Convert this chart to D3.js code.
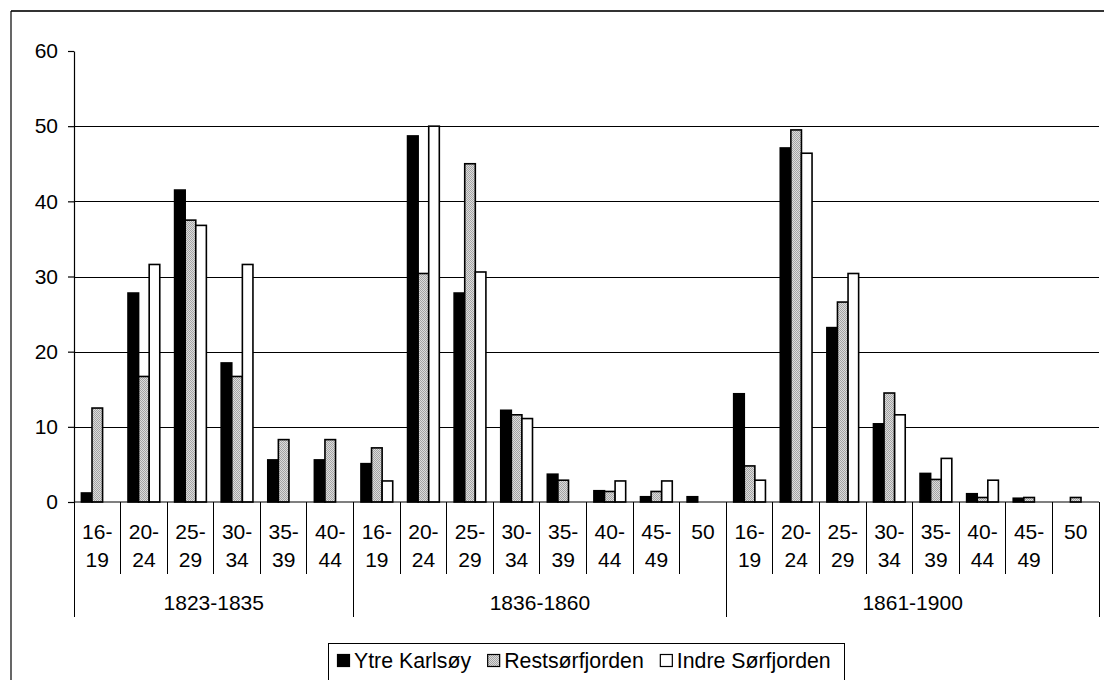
<!DOCTYPE html>
<html>
<head>
<meta charset="utf-8">
<script src="https://cdn.jsdelivr.net/npm/d3@7"></script>
<style>
  html, body { margin: 0; padding: 0; background: #fff; }
  svg { display: block; }
  text { font-family: Arial, "Liberation Sans", sans-serif; fill: #000; }
</style>
</head>
<body>
<svg id="chart" width="1104" height="680"></svg>
<script>
// ---------- data ----------
const periods = ["1823-1835", "1836-1860", "1861-1900"];
const ages1823 = ["16-19", "20-24", "25-29", "30-34", "35-39", "40-44"];
const ages1836 = ["16-19", "20-24", "25-29", "30-34", "35-39", "40-44", "45-49", "50"];
const ages1861 = ["16-19", "20-24", "25-29", "30-34", "35-39", "40-44", "45-49", "50"];
const seriesNames = ["Ytre Karlsøy", "Restsørfjorden", "Indre Sørfjorden"];
const ytreKarlsoy = [1.2, 27.8, 41.5, 18.5, 5.6, 5.6,
                     5.1, 48.7, 27.8, 12.2, 3.7, 1.5, 0.7, 0.7,
                     14.4, 47.1, 23.2, 10.4, 3.8, 1.1, 0.5, 0];
const restsorfjorden = [12.5, 16.7, 37.5, 16.7, 8.3, 8.3,
                        7.2, 30.4, 45.0, 11.6, 2.9, 1.4, 1.4, 0,
                        4.8, 49.5, 26.6, 14.5, 3.0, 0.6, 0.6, 0.6];
const indreSorfjorden = [0, 31.6, 36.8, 31.6, 0, 0,
                         2.8, 50.0, 30.6, 11.1, 0, 2.8, 2.8, 0,
                         2.9, 46.4, 30.4, 11.6, 5.8, 2.9, 0, 0];
const yTicks = [0, 10, 20, 30, 40, 50, 60];

// ---------- build categories ----------
const ageLists = [ages1823, ages1836, ages1861];
const categories = [];
ageLists.forEach((list, gi) => list.forEach(a => categories.push({ id: gi + "|" + a, age: a, group: gi })));
const seriesValues = [ytreKarlsoy, restsorfjorden, indreSorfjorden];

// ---------- layout ----------
const svg = d3.select("#chart");
const plotL = 74, plotR = 1099, plotT = 51, plotB = 502;
const FS = 21;

const x = d3.scaleBand().domain(categories.map(c => c.id)).range([plotL, plotR]).paddingInner(0).paddingOuter(0);
const xs = d3.scaleBand().domain([0, 1, 2]).range([0, x.bandwidth()]).paddingInner(0).paddingOuter(0.7);
const y = d3.scaleLinear().domain([0, 60]).range([plotB, plotT]);

// pattern for grey series
const defs = svg.append("defs");
const pat = defs.append("pattern").attr("id", "greyPat").attr("width", 2).attr("height", 2)
  .attr("patternUnits", "userSpaceOnUse");
pat.append("rect").attr("width", 2).attr("height", 2).attr("fill", "#dcdcdc");
pat.append("rect").attr("width", 1).attr("height", 1).attr("fill", "#a4a4a4");
pat.append("rect").attr("x", 1).attr("y", 1).attr("width", 1).attr("height", 1).attr("fill", "#a4a4a4");
const fills = ["#000", "url(#greyPat)", "#fff"];

// background
svg.append("rect").attr("width", 1104).attr("height", 680).attr("fill", "#fff");

// outer frame (top & left visible)
svg.append("line").attr("x1", 11).attr("x2", 1104).attr("y1", 11).attr("y2", 11)
  .attr("stroke", "#333").attr("stroke-width", 2);
svg.append("line").attr("x1", 11).attr("x2", 11).attr("y1", 11).attr("y2", 680)
  .attr("stroke", "#000").attr("stroke-width", 1.2);

// gridlines
svg.append("g").attr("transform", `translate(${plotL},0)`)
  .call(d3.axisLeft(y).tickValues(yTicks.filter(v => v > 0 && v < 60)).tickSize(-(plotR - plotL)).tickFormat(""))
  .call(g => g.select(".domain").remove())
  .call(g => g.selectAll("line").attr("stroke", "#000").attr("stroke-width", 1).attr("shape-rendering", "crispEdges"));

// bars
const barG = svg.append("g");
categories.forEach((c, ci) => {
  seriesValues.forEach((vals, si) => {
    const v = vals[ci];
    if (!v) return;
    barG.append("rect")
      .attr("x", x(c.id) + xs(si))
      .attr("width", xs.bandwidth())
      .attr("y", y(v))
      .attr("height", y(0) - y(v))
      .attr("fill", fills[si])
      .attr("stroke", "#000")
      .attr("stroke-width", 1.6);
  });
});

// y axis
const yAxis = svg.append("g").attr("transform", `translate(${plotL},0)`)
  .call(d3.axisLeft(y).tickValues(yTicks).tickSize(6).tickPadding(10).tickSizeOuter(0));
yAxis.select(".domain").attr("stroke", "#000").attr("stroke-width", 1.2);
yAxis.selectAll(".tick line").attr("stroke", "#000").attr("stroke-width", 1.2);
yAxis.selectAll("text").attr("font-size", FS).attr("font-family", "Arial, 'Liberation Sans', sans-serif");

// x axis line
svg.append("line").attr("x1", plotL).attr("x2", plotR).attr("y1", plotB).attr("y2", plotB)
  .attr("stroke", "#000").attr("stroke-width", 1.2);

// category boundaries
const groupStarts = new Set();
let idx = 0;
ageLists.forEach(list => { groupStarts.add(idx); idx += list.length; });
groupStarts.add(categories.length);
for (let i = 0; i <= categories.length; i++) {
  const xx = i < categories.length ? x(categories[i].id) : plotR;
  const isGroup = groupStarts.has(i);
  svg.append("line").attr("x1", xx).attr("x2", xx).attr("y1", plotB).attr("y2", isGroup ? 617 : 574)
    .attr("stroke", "#000").attr("stroke-width", 1).attr("shape-rendering", "crispEdges");
}

// category labels
categories.forEach(c => {
  const cx = x(c.id) + x.bandwidth() / 2;
  const parts = c.age.includes("-") ? [c.age.split("-")[0] + "-", c.age.split("-")[1]] : [c.age];
  parts.forEach((p, k) => {
    svg.append("text").attr("x", cx).attr("y", 539 + k * 28).attr("text-anchor", "middle")
      .attr("font-size", FS).text(p);
  });
});

// group labels
idx = 0;
ageLists.forEach((list, gi) => {
  const x0 = x(categories[idx].id);
  const x1 = idx + list.length < categories.length ? x(categories[idx + list.length].id) : plotR;
  svg.append("text").attr("x", (x0 + x1) / 2).attr("y", 610).attr("text-anchor", "middle")
    .attr("font-size", FS).text(periods[gi]);
  idx += list.length;
});

// legend
svg.append("rect").attr("x", 328.5).attr("y", 643.5).attr("width", 516).attr("height", 40)
  .attr("fill", "#fff").attr("stroke", "#000").attr("stroke-width", 1);
let lx = 337;
seriesNames.forEach((name, si) => {
  svg.append("rect").attr("x", lx + 0.5).attr("y", 654.5).attr("width", 12).attr("height", 12)
    .attr("fill", fills[si]).attr("stroke", "#000").attr("stroke-width", 1.2);
  const t = svg.append("text").attr("x", lx + 17).attr("y", 668).attr("font-size", 21.3).text(name);
  lx = lx + 17 + t.node().getComputedTextLength() + 16;
});
</script>
</body>
</html>
